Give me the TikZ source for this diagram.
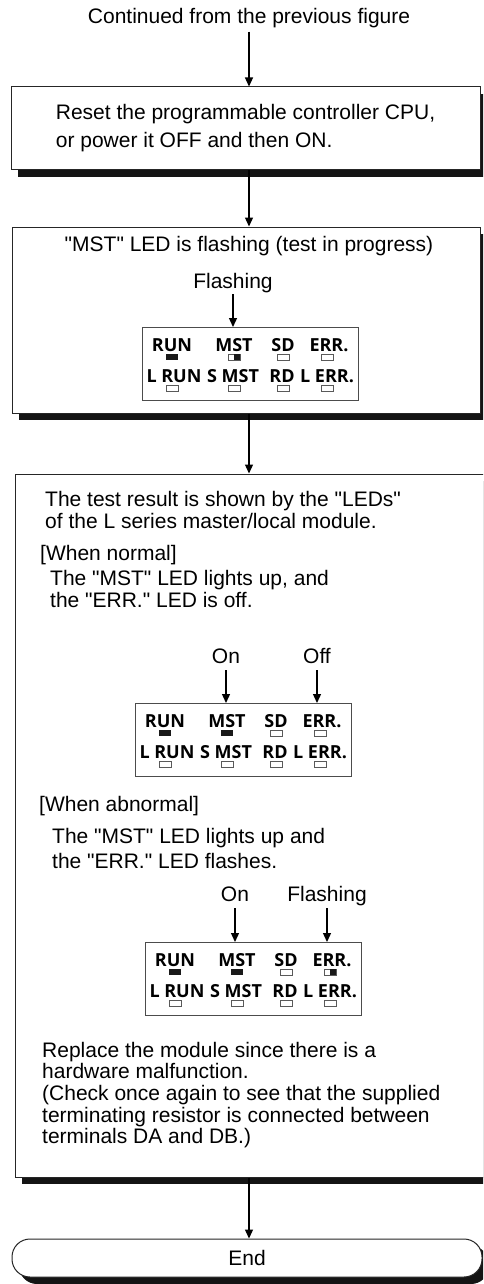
\documentclass[tikz,border=0pt]{standalone}
\usepackage{fontspec}
\setmainfont{Liberation Sans}[Ligatures=TeXOff]
\newfontfamily\ledfont{Open Sans}
\usetikzlibrary{arrows.meta,shadows}
\tikzset{
  arr/.style={line width=1.3pt, -{Triangle[length=9pt,width=8pt]}},
  stepbox/.style={draw=black!85, line width=1pt, fill=white, inner sep=0pt,
    drop shadow={shadow xshift=7pt, shadow yshift=-7pt, fill=black!92, opacity=1}},
  txt/.style={font=\fontsize{21}{28}\selectfont, inner sep=0pt, anchor=base west},
  ctxt/.style={font=\fontsize{21}{28}\selectfont, inner sep=0pt, anchor=base},
  panel/.style={draw=black!70, line width=1pt, fill=white, minimum width=216pt, minimum height=73pt, inner sep=0pt},
  ledlbl/.style={font=\ledfont\bfseries\fontsize{18}{18}\selectfont, inner sep=0pt, anchor=base},
  ledline/.style={draw=black!65, line width=0.8pt, fill=white},
  ledfill/.style={fill=black!90},
}
\newcommand\ledbox[3]{%
  \ifcase#3
    \draw[ledline] (#1-6,#2-3) rectangle (#1+6,#2+3);
  \or
    \fill[ledfill] (#1-6,#2-3) rectangle (#1+6,#2+3);
  \or
    \draw[ledline] (#1-6,#2-3) rectangle (#1+6,#2+3);
    \fill[ledfill] (#1,#2-3) rectangle (#1+6,#2+3);
  \fi}
\newcommand\ledpanel[4]{%
  \node[panel, anchor=north west] (#1) at (#2) {};
  \begin{scope}[shift={(#1.north west)}]
    \node[ledlbl] (#1run) at (30,24) {RUN};
    \node[ledlbl] (#1mst) at (92,24) {MST};
    \node[ledlbl] (#1sd) at (141,24) {SD};
    \node[ledlbl] (#1err) at (187,24) {ERR.};
    \node[ledlbl] (#1lrun) at (32,55) {L RUN};
    \node[ledlbl] (#1smst) at (91,55) {S MST};
    \node[ledlbl] (#1rd) at (140,55) {RD};
    \node[ledlbl] (#1lerr) at (185,55) {L ERR.};
    \ledbox{30}{30}{1}
    \ledbox{92}{30}{#3}
    \ledbox{141}{30}{0}
    \ledbox{185}{30}{#4}
    \ledbox{30}{61}{0}
    \ledbox{92}{61}{0}
    \ledbox{141}{61}{0}
    \ledbox{185}{61}{0}
  \end{scope}}
\begin{document}
\begin{tikzpicture}[x=1pt,y=-1pt]
\useasboundingbox (0,0) rectangle (483,1284);
\fill[white] (0,0) rectangle (483,1284);
\clip (0,0) rectangle (483,1284);
\coordinate (trunk) at (249,0);

% top label
\node[ctxt, inner sep=3pt] (cont) at (249,24) {Continued from the previous figure};

% box 1
\node[stepbox, minimum width=469pt, minimum height=83pt, align=left,
      font=\fontsize{21}{28}\selectfont] (b1) at (245.5,128.5)
  {Reset the programmable controller CPU,\\or power it OFF and then ON.};

% box 2
\node[stepbox, minimum width=468pt, minimum height=186pt] (b2) at (246,320) {};
\node[ctxt] (t2) at (249,251) {"MST" LED is flashing (test in progress)};
\node[ctxt] (fl1) at (233,288) {Flashing};
\ledpanel{pa}{142,327}{2}{0}

% box 3
\node[stepbox, minimum width=485pt, minimum height=703pt] (b3) at (257.5,825.5) {};
\node[txt] (r1) at (45,506) {The test result is shown by the "LEDs"};
\node[txt] (r2) at (45,528) {of the L series master/local module.};
\node[txt] (wn) at (40,560) {[When normal]};
\node[txt] (n1) at (50,585.5) {The "MST" LED lights up, and};
\node[txt] (n2) at (50,607.5) {the "ERR." LED is off.};
\node[ctxt] (on1) at (226,663) {On};
\node[ctxt] (off1) at (317,663) {Off};
\ledpanel{pb}{135,703}{1}{0}

\node[txt] (wa) at (39,811) {[When abnormal]};
\node[txt] (a1) at (52,843) {The "MST" LED lights up and};
\node[txt] (a2) at (52,868) {the "ERR." LED flashes.};
\node[ctxt] (on2) at (235,901) {On};
\node[ctxt] (fl2) at (327,901) {Flashing};
\ledpanel{pc}{145,942}{1}{2}

\node[txt] (c1) at (42,1057) {Replace the module since there is a};
\node[txt] (c2) at (42,1078.5) {hardware malfunction.};
\node[txt] (c3) at (42,1100) {(Check once again to see that the supplied};
\node[txt] (c4) at (42,1122) {terminating resistor is connected between};
\node[txt] (c5) at (42,1143.5) {terminals DA and DB.)};

% end
\node[stepbox, minimum width=470pt, minimum height=38pt, rounded corners=18pt,
      font=\fontsize{21}{28}\selectfont] (end) at (247,1258) {End};

% connectors
\draw[arr] (cont.south) -- (cont.south |- b1.north);
\draw[arr] (b1.south -| trunk) -- (b2.north -| trunk);
\draw[arr] (b2.south -| trunk) -- (b3.north -| trunk);
\draw[arr] (b3.south -| trunk) -- (end.north -| trunk);
\draw[arr] ([yshift=-6pt]fl1.base) -- (fl1.base |- pa.north);
\draw[arr] ([yshift=-7pt]on1.base) -- (on1.base |- pb.north);
\draw[arr] ([yshift=-7pt]off1.base) -- (off1.base |- pb.north);
\draw[arr] ([yshift=-7pt]on2.base) -- (on2.base |- pc.north);
\draw[arr] ([yshift=-7pt]fl2.base) -- (fl2.base |- pc.north);
\end{tikzpicture}
\end{document}
